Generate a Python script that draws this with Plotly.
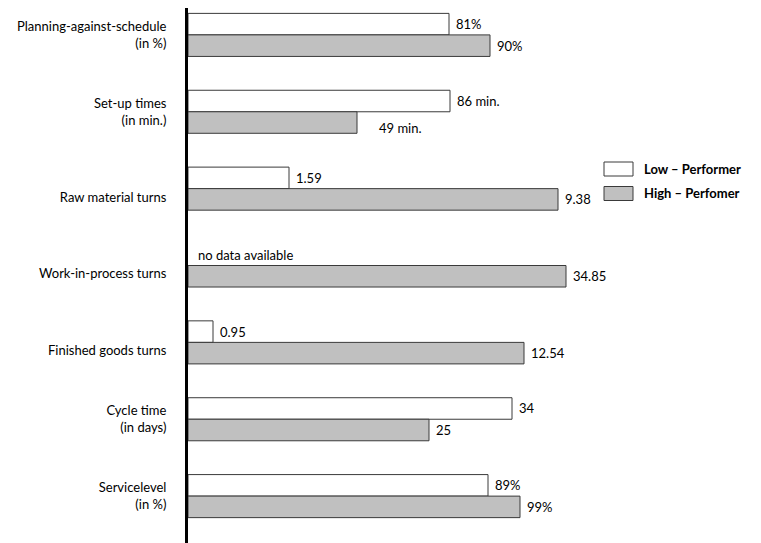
import plotly.graph_objects as go

categories = [
    "Planning-against-schedule<br>(in %)",
    "Set-up times<br>(in min.)",
    "Raw material turns",
    "Work-in-process turns",
    "Finished goods turns",
    "Cycle time<br>(in days)",
    "Servicelevel<br>(in %)",
]
# Displayed bar lengths (schematic; units are relative)
low_length = [261, 262, 101, None, 25, 324, 300]
high_length = [302, 169, 370, 378, 336, 241, 332]
# Value labels as printed in the chart
low_labels = ["81%", "86 min.", "1.59", "no data available", "0.95", "34", "89%"]
high_labels = ["90%", "49 min.", "9.38", "34.85", "12.54", "25", "99%"]

series_names = ["Low – Performer", "High – Perfomer"]

FONT = "Lato"
FS = 13
fig = go.Figure()
fig.add_trace(go.Bar(
    y=categories, x=low_length, orientation="h", name=series_names[0],
    marker=dict(color="white", line=dict(color="#3a3a3a", width=1)),
    showlegend=False,
))
fig.add_trace(go.Bar(
    y=categories, x=high_length, orientation="h", name=series_names[1],
    marker=dict(color="#c0c0c0", line=dict(color="#3a3a3a", width=1)),
    showlegend=False,
))

half = 10.8  # half of a bar thickness in px
special = {("High", 1): (15, -5)}
for i, cat in enumerate(categories):
    for key, lengths, labels, ysh in (("Low", low_length, low_labels, half),
                                      ("High", high_length, high_labels, -half)):
        L = lengths[i]
        dx, dy = special.get((key, i), (0, 0))
        if L is None:
            fig.add_annotation(x=0, y=cat, text=labels[i], showarrow=False,
                               xanchor="left", xshift=8, yshift=ysh,
                               font=dict(family=FONT, size=FS, color="black"))
        else:
            fig.add_annotation(x=L, y=cat, text=labels[i], showarrow=False,
                               xanchor="left", xshift=5 + dx, yshift=ysh + dy,
                               font=dict(family=FONT, size=FS, color="black"))

# custom legend (boxes + labels)
legend_fill = ["white", "#c0c0c0"]
for k, (nm, fill) in enumerate(zip(series_names, legend_fill)):
    top_px = 162 + k * 24.5          # pixel row of box top
    y_top = 1 - (top_px - 8) / 535
    y_bot = 1 - (top_px + 14 - 8) / 535
    fig.add_shape(type="rect", xref="paper", yref="paper",
                  x0=(604 - 188) / 573, x1=(633 - 188) / 573,
                  y0=y_bot, y1=y_top,
                  fillcolor=fill, line=dict(color="#3a3a3a", width=1))
    fig.add_annotation(xref="paper", yref="paper",
                       x=(642 - 188) / 573, y=(y_top + y_bot) / 2,
                       text="<b>" + nm + "</b>", showarrow=False,
                       xanchor="left", yanchor="middle",
                       font=dict(family=FONT, size=FS, color="black"))

# single-line category labels sit slightly below the group centre in the original
tick_text = [c if "<br>" in c else "<br>" + c for c in categories]

fig.update_layout(
    width=761, height=543,
    margin=dict(l=188, r=0, t=8, b=0),
    paper_bgcolor="white", plot_bgcolor="white",
    barmode="group", bargap=0.44, bargroupgap=0,
    font=dict(family=FONT, size=FS, color="black"),
    xaxis=dict(range=[0, 573], visible=False, fixedrange=True),
    yaxis=dict(categoryorder="array", categoryarray=categories,
               tickmode="array", tickvals=categories, ticktext=tick_text,
               range=[6.61, -0.35], showline=True, linewidth=3, linecolor="black",
               showgrid=False, zeroline=False, ticks="", ticklabelstandoff=16,
               fixedrange=True,
               tickfont=dict(family=FONT, size=FS, color="black")),
)

fig.write_html("out.html", config={"displayModeBar": False},
               post_script="document.body.style.margin='0';document.body.style.overflow='hidden';")
